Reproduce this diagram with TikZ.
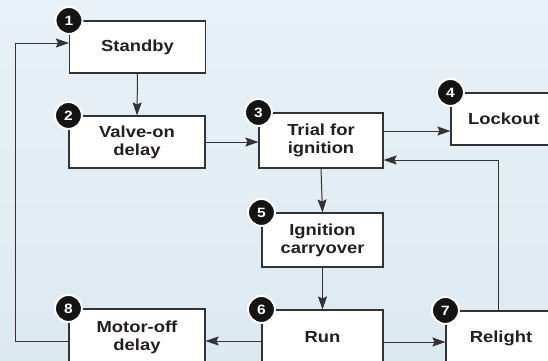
\documentclass[tikz,border=0pt]{standalone}
\usepackage{fontspec}
\newfontfamily\boxfont[FakeStretch=1.15]{Liberation Sans}
\usepackage{xcolor}
\usetikzlibrary{arrows.meta,calc}

\definecolor{bgtop}{HTML}{E8F1F7}
\definecolor{bgbottom}{HTML}{DDE9F1}
\definecolor{boxline}{HTML}{333333}
\definecolor{inkgray}{HTML}{231F20}

\begin{document}
\begin{tikzpicture}[x=1pt,y=-1pt,
    stage/.style={draw=boxline, line width=1.1pt, fill=white, align=center, inner sep=0pt,
        text=inkgray, font=\boxfont\fontsize{16}{18}\selectfont\bfseries},
    badge/.style={circle, fill=black!92, draw=white, line width=2pt, minimum size=27pt,
        inner sep=0pt, text=white, font=\boxfont\fontsize{13.5}{13.5}\selectfont\bfseries},
    flow/.style={draw=boxline, line width=1pt, -{Stealth[length=13pt,width=9pt,inset=2pt]}}]
    \clip (0,0) rectangle (548,360);
    \shade[top color=bgtop, bottom color=bgbottom] (0,0) rectangle (548,360); % backdrop

    % stages
    \node[stage, minimum width=136pt, minimum height=52pt] (standby) at (137.5,47) {Standby};
    \node[stage, minimum width=136pt, minimum height=52pt] (valve) at (137,142) {Valve-on\\delay};
    \node[stage, minimum width=124pt, minimum height=55pt] (trial) at (321,140.5) {Trial for\\ignition};
    \node[stage, minimum width=106pt, minimum height=52pt] (lockout) at (504,119) {Lockout};
    \node[stage, minimum width=121pt, minimum height=54pt] (carry) at (322.5,240) {Ignition\\carryover};
    \node[stage, minimum width=121pt, minimum height=54pt] (run) at (322.5,337) {Run};
    \node[stage, minimum width=110pt, minimum height=54pt] (relight) at (501,338) {Relight};
    \node[stage, minimum width=136pt, minimum height=56pt] (motor) at (137,337) {Motor-off\\delay};

    % connectors
    \draw[flow] (standby.south) -- (valve.north);
    \draw[flow] (valve.east) -- (valve.east -| trial.west);
    \draw[flow] ([yshift=9.5pt]trial.east) -- ([yshift=9.5pt]trial.east -| lockout.west);
    \draw[flow] (trial.south) -- (carry.north);
    \draw[flow] (carry.south) -- (run.north);
    \draw[flow] ([yshift=-5pt]run.east) -- ([yshift=-5pt]run.east -| relight.west);
    \draw[flow] ([yshift=-4pt]run.west) -- ([yshift=-4pt]run.west -| motor.east);
    \draw[flow] ([xshift=-3pt]relight.north) |- ([yshift=-19.5pt]trial.east);
    \coordinate (rail) at (15,43); % return line corner
    \draw[flow] ([yshift=-4pt]motor.west) -| (rail) -- ([yshift=4pt]standby.west);

    % step numbers
    \node[badge] (n1) at (standby.north west) {1};
    \node[badge] (n2) at (valve.north west) {2};
    \node[badge] (n3) at (trial.north west) {3};
    \node[badge] (n4) at (lockout.north west) {4};
    \node[badge] (n5) at (carry.north west) {5};
    \node[badge] (n6) at (run.north west) {6};
    \node[badge] (n7) at (relight.north west) {7};
    \node[badge] (n8) at (motor.north west) {8};
\end{tikzpicture}
\end{document}
